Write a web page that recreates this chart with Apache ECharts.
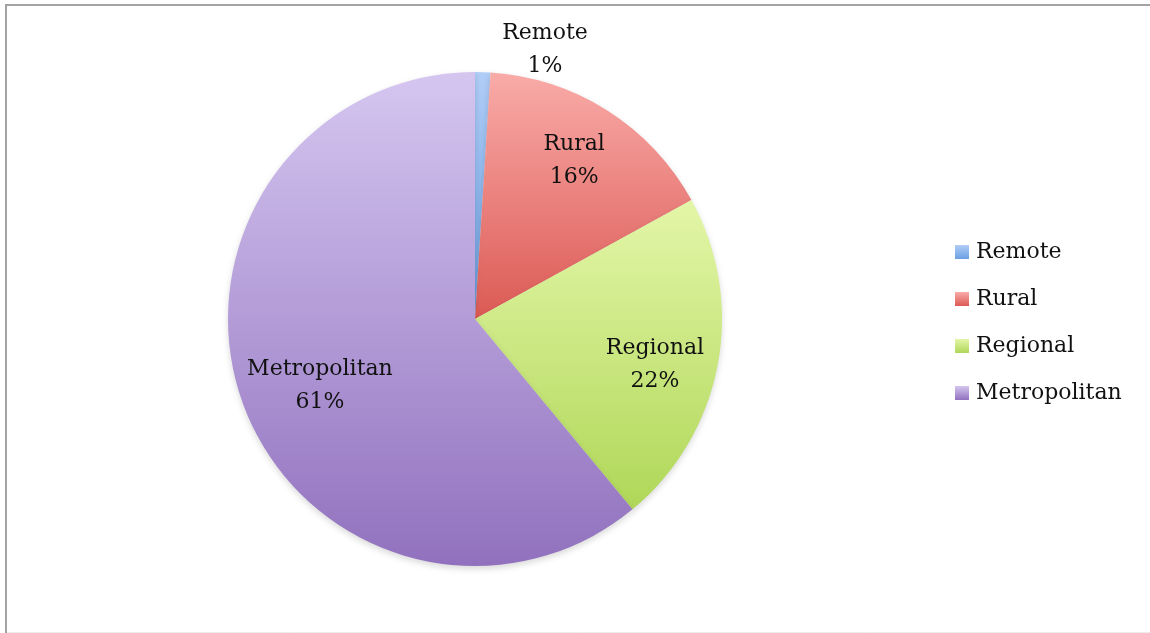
<!DOCTYPE html>
<html>
<head>
<meta charset="utf-8">
<title>Location distribution</title>
<script src="https://cdn.jsdelivr.net/npm/echarts@6/dist/echarts.min.js"></script>
<style>
  html, body { margin: 0; padding: 0; background: #ffffff; }
  #chart { width: 1150px; height: 633px; }
</style>
</head>
<body>
<div id="chart"></div>
<script>
// Share of respondents by location type (percent)
const categories = ['Remote', 'Rural', 'Regional', 'Metropolitan'];
const shares = [1, 16, 22, 61];

// Vertical gradient per slice: [top, bottom]
const sliceColours = {
  Remote: ['#b0cdf7', '#6b9fe3'],
  Rural: ['#f9aba8', '#dc5a55'],
  Regional: ['#e3f6a8', '#b0d758'],
  Metropolitan: ['#d5c6f0', '#9171be']
};

// Label placement: fraction of the radius, and a small turn (degrees) off the slice's middle
const labelPlacement = {
  Remote: { r: 1.125, turn: 12.8 },
  Rural: { r: 0.755, turn: -0.3 },
  Regional: { r: 0.752, turn: 3.5 },
  Metropolitan: { r: 0.684, turn: -3.6 }
};

const pieCenter = [475, 319];
const pieRadius = 247;
const fontFamily = '"DejaVu Serif", "Liberation Serif", serif';

function gradient(name) {
  const c = sliceColours[name];
  return new echarts.graphic.LinearGradient(0, 0, 0, 1, [
    { offset: 0, color: c[0] },
    { offset: 1, color: c[1] }
  ]);
}

const total = shares.reduce((a, b) => a + b, 0);
const midAngles = [];
let acc = 0;
shares.forEach(v => {
  midAngles.push((acc + v / 2) / total * 360);
  acc += v;
});

const chart = echarts.init(document.getElementById('chart'), null, { renderer: 'canvas' });

chart.setOption({
  animation: false,
  backgroundColor: '#ffffff',
  graphic: [
    { type: 'line', shape: { x1: 6, y1: 4, x2: 6, y2: 633 }, style: { stroke: '#a3a3a3', lineWidth: 2 } },
    { type: 'line', shape: { x1: 5, y1: 5, x2: 1150, y2: 5 }, style: { stroke: '#a3a3a3', lineWidth: 2 } },
    { type: 'line', shape: { x1: 7, y1: 632.5, x2: 1150, y2: 632.5 }, style: { stroke: '#ececec', lineWidth: 1 } }
  ],
  legend: {
    orient: 'vertical',
    left: 955,
    top: 239,
    padding: 0,
    itemWidth: 14,
    itemHeight: 14,
    itemGap: 21,
    icon: 'rect',
    selectedMode: false,
    data: categories,
    textStyle: {
      fontFamily: fontFamily,
      fontSize: 22,
      color: '#111111',
      lineHeight: 26,
      padding: [0, 0, 0, 2]
    }
  },
  series: [{
    type: 'pie',
    center: pieCenter,
    radius: pieRadius,
    startAngle: 90,
    clockwise: true,
    silent: true,
    avoidLabelOverlap: false,
    itemStyle: {
      shadowBlur: 6,
      shadowColor: 'rgba(0,0,0,0.15)',
      shadowOffsetY: 3
    },
    label: {
      show: true,
      position: 'inside',
      formatter: '{b}\n{c}%',
      fontFamily: fontFamily,
      fontSize: 22,
      lineHeight: 33,
      color: '#111111',
      align: 'center'
    },
    labelLine: { show: false },
    labelLayout: function (params) {
      const name = categories[params.dataIndex];
      const p = labelPlacement[name];
      const a = (midAngles[params.dataIndex] + p.turn) * Math.PI / 180;
      return {
        x: pieCenter[0] + p.r * pieRadius * Math.sin(a),
        y: pieCenter[1] - p.r * pieRadius * Math.cos(a),
        align: 'center',
        verticalAlign: 'middle'
      };
    },
    data: categories.map((name, i) => ({
      name: name,
      value: shares[i],
      itemStyle: { color: gradient(name) }
    }))
  }]
});
</script>
</body>
</html>
